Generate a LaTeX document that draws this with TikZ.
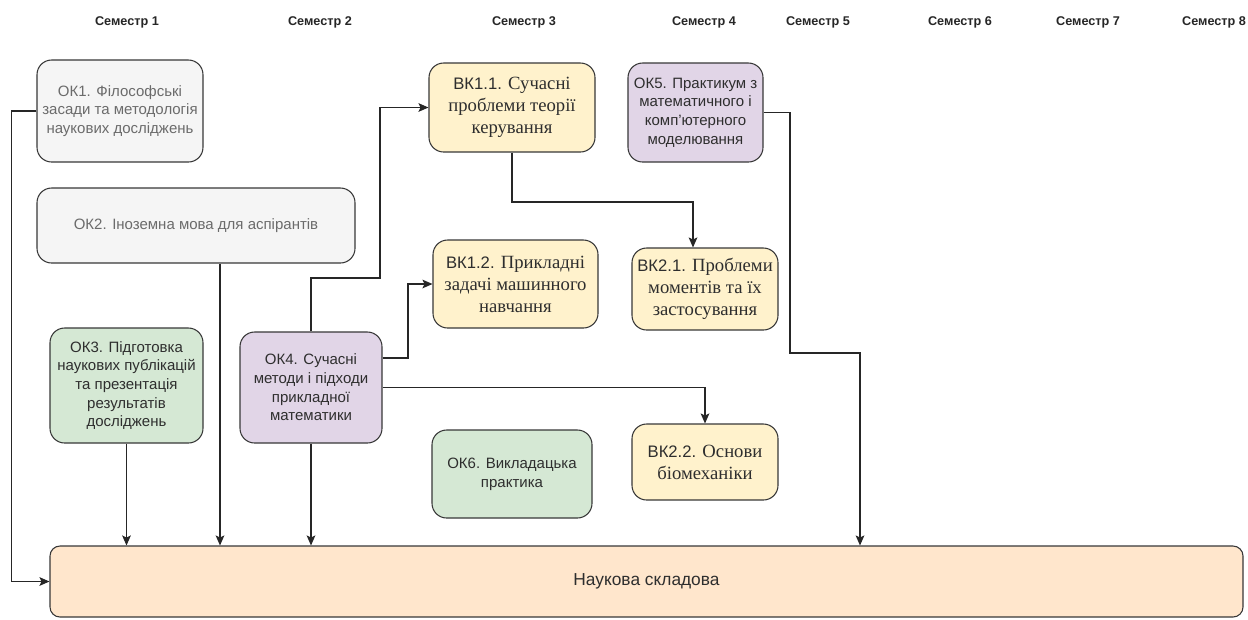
\documentclass[tikz,border=0pt]{standalone}
\usepackage{fontspec}
\setmainfont{Liberation Sans}
\newfontfamily\timesfont{Liberation Serif}
\usepackage{tikz}
\usetikzlibrary{arrows.meta}

\definecolor{okgrey}{HTML}{F5F5F5}
\definecolor{okgreen}{HTML}{D5E8D4}
\definecolor{okviolet}{HTML}{E1D5E7}
\definecolor{vkyellow}{HTML}{FFF2CC}
\definecolor{naukfill}{HTML}{FFE6CC}
\newcommand\vkcode[1]{{\normalfont\fontsize{12.5}{16.5}\selectfont #1}}

\tikzset{
    course/.style 2 args={draw=black!78, line width=0.8pt, rounded corners=11pt,
        align=center, inner sep=2pt, text=black!82,
        minimum width=#1*0.75pt, minimum height=#2*0.75pt,
        font=\fontsize{11.25}{14}\selectfont},
    vkcourse/.style 2 args={course={#1}{#2}, fill=vkyellow,
        font=\fontsize{14}{16.5}\selectfont\timesfont},
    sem/.style={font=\fontsize{9.5}{11}\selectfont\bfseries, text=black!85},
    arr/.style={-{Stealth[length=7.5pt,width=6.5pt,inset=1.5pt]}, line width=0.8pt, black!85}
}

\begin{document}
\begin{tikzpicture}[x=0.75pt, y=-0.75pt]
    \useasboundingbox (0,0) rectangle (1248,619);
    % semesters
    \foreach \i/\x in {1/127, 2/320, 3/524, 4/704, 5/818, 6/960, 7/1088, 8/1214}
        \node[sem] (sem\i) at (\x,22) {Семестр \i};

    \node[course={166}{102}, fill=okgrey, text=black!58] (ok1) at (120,111)
        {ОК1. Філософські\\засади та методологія\\наукових досліджень};
    \node[course={318}{75}, fill=okgrey, text=black!58] (ok2) at (196,225.5)
        {ОК2. Іноземна мова для аспірантів};
    \node[course={153}{115}, fill=okgreen] (ok3) at (126.5,385.5)
        {ОК3. Підготовка\\наукових публікацій\\та презентація\\результатів\\досліджень};
    \node[course={142}{111}, fill=okviolet] (ok4) at (311,387.5)
        {ОК4. Сучасні\\методи і підходи\\прикладної\\математики};
    \node[course={135}{99}, fill=okviolet] (ok5) at (695.5,112.5)
        {ОК5. Практикум з\\математичного і\\комп'ютерного\\моделювання};
    \node[course={160}{88}, fill=okgreen] (ok6) at (512,474)
        {ОК6. Викладацька\\практика};

    \node[vkcourse={166}{89}] (vk11) at (512,107.5)
        {\vkcode{ВК1.1.} Сучасні\\проблеми теорії\\керування};
    \node[vkcourse={165}{88}] (vk12) at (515.5,284)
        {\vkcode{ВК1.2.} Прикладні\\задачі машинного\\навчання};
    \node[vkcourse={146}{82}] (vk21) at (705,289)
        {\vkcode{ВК2.1.} Проблеми\\моментів та їх\\застосування};
    \node[vkcourse={146}{76}] (vk22) at (705,462)
        {\vkcode{ВК2.2.} Основи\\біомеханіки};

    \node[course={1193}{71}, fill=naukfill, rounded corners=7.5pt,
        font=\fontsize{13}{15}\selectfont] (nauk) at (646.5,581.5) {Наукова складова};

    % links
    \draw[arr] (ok1.west) -- ++(-25,0) |- (nauk.west);
    \draw[arr] (ok2.south -| 220,0) -- (nauk.north -| 220,0);
    \draw[arr] (ok3.south) -- (ok3.south |- nauk.north);
    \draw[arr] (ok4.south) -- (ok4.south |- nauk.north);
    \draw[arr] (ok4.north) |- (380,278) |- (vk11.west);
    \draw[arr] (ok4.east |- 0,358) -- (408,358) |- (vk12.west);
    \draw[arr] (ok4.east) -| (vk22.north);
    \draw[arr] (vk11.south) |- (693,202) -- (vk21.north -| 693,0);
    \draw[arr] (ok5.east) -| (790,353) -| (nauk.north -| 860,0);
\end{tikzpicture}
\end{document}
